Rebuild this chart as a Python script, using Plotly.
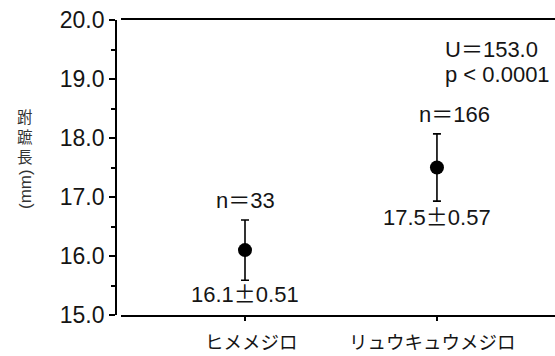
import plotly.graph_objects as go

# Tarsus length by subspecies: mean ± SD
categories = ["ヒメメジロ", "リュウキュウメジロ"]
means = [16.1, 17.5]
sds = [0.51, 0.57]
counts = [33, 166]
u_stat = "153.0"
p_text = "p < 0.0001"

y_ticks = [15.0, 16.0, 17.0, 18.0, 19.0, 20.0]
y_minor = [15.5, 16.5, 17.5, 18.5, 19.5]

W, H = 555, 356
ML, MR, MT, MB = 116, 0, 20, 41
plot_w = W - ML - MR
plot_h = H - MT - MB

LATIN = "Liberation Sans, Arial, Helvetica, sans-serif"
CJK = "Noto Sans CJK JP, sans-serif"
TXT = "#151515"


def wide(ch):
    return f"<span style=\"font-family:'Noto Sans CJK JP'\">{ch}</span>"


def px_x(px):
    return (px - ML) / plot_w


def px_y(py):
    return 1 - (py - MT) / plot_h


fig = go.Figure()
fig.add_trace(go.Scatter(
    x=[0, 1], y=means,
    mode="markers",
    marker=dict(color="black", size=14, symbol="circle"),
    error_y=dict(type="data", array=sds, visible=True, color="black",
                 thickness=1.6, width=4),
    showlegend=False,
    cliponaxis=False,
))

annotations = []
n_xshift = [0, 18]
stat_yshift = [6, 4]
for i, (m, s, n) in enumerate(zip(means, sds, counts)):
    annotations.append(dict(
        x=i, y=m + s, xref="x", yref="y", text=f"n{wide('＝')}{n}",
        showarrow=False, yanchor="bottom", yshift=4, xshift=n_xshift[i],
        font=dict(family=LATIN, size=22, color=TXT),
    ))
    annotations.append(dict(
        x=i, y=m - s, xref="x", yref="y", text=f"{m:.1f}{wide('±')}{s:.2f}",
        showarrow=False, yanchor="top", yshift=stat_yshift[i],
        font=dict(family=LATIN, size=22, color=TXT),
    ))

annotations.append(dict(
    x=px_x(443), y=px_y(47), xref="paper", yref="paper",
    text=f"U{wide('＝')}{u_stat}",
    showarrow=False, xanchor="left", yanchor="middle",
    font=dict(family=LATIN, size=22, color=TXT),
))
annotations.append(dict(
    x=px_x(443), y=px_y(75), xref="paper", yref="paper", text=p_text,
    showarrow=False, xanchor="left", yanchor="middle",
    font=dict(family=LATIN, size=22, color=TXT),
))

# Category labels under the ticks
for lab, cx in zip(categories, [251, 432]):
    annotations.append(dict(
        x=px_x(cx), y=px_y(341), xref="paper", yref="paper", text=lab,
        showarrow=False, xanchor="center", yanchor="middle",
        font=dict(family=CJK, size=18.5, color=TXT),
    ))

# Vertical axis title: stacked kanji, then the unit rotated
annotations.append(dict(
    x=px_x(25), y=px_y(136), xref="paper", yref="paper",
    text="跗<br>蹠<br>長",
    showarrow=False, xanchor="center", yanchor="middle",
    font=dict(family=CJK, size=15.5, color="#333"),
))
annotations.append(dict(
    x=px_x(25), y=px_y(189), xref="paper", yref="paper", text="(mm)",
    textangle=-90,
    showarrow=False, xanchor="center", yanchor="middle",
    font=dict(family=LATIN, size=17, color="#333"),
))

fig.update_layout(
    width=W, height=H,
    margin=dict(l=ML, r=MR, t=MT, b=MB),
    paper_bgcolor="white", plot_bgcolor="white",
    annotations=annotations,
    xaxis=dict(
        domain=[5 / plot_w, 1],
        range=[-0.646, 1.615],
        tickvals=[0, 1], ticktext=["", ""],
        ticks="outside", ticklen=4, tickwidth=1.5, tickcolor="black",
        showline=True, linecolor="black", linewidth=1.5, mirror=True,
        showgrid=False, zeroline=False,
    ),
    yaxis=dict(
        anchor="free", position=0,
        range=[15, 20],
        tickvals=y_ticks, tickformat=".1f",
        ticks="outside", ticklen=6, tickwidth=1.5, tickcolor="black",
        minor=dict(tickvals=y_minor, ticks="outside",
                   ticklen=4, tickwidth=1.5, tickcolor="black"),
        showline=True, linecolor="black", linewidth=1.8,
        showgrid=False, zeroline=False,
        tickfont=dict(family=LATIN, size=23, color=TXT),
    ),
)

fig.write_html("out.html")
